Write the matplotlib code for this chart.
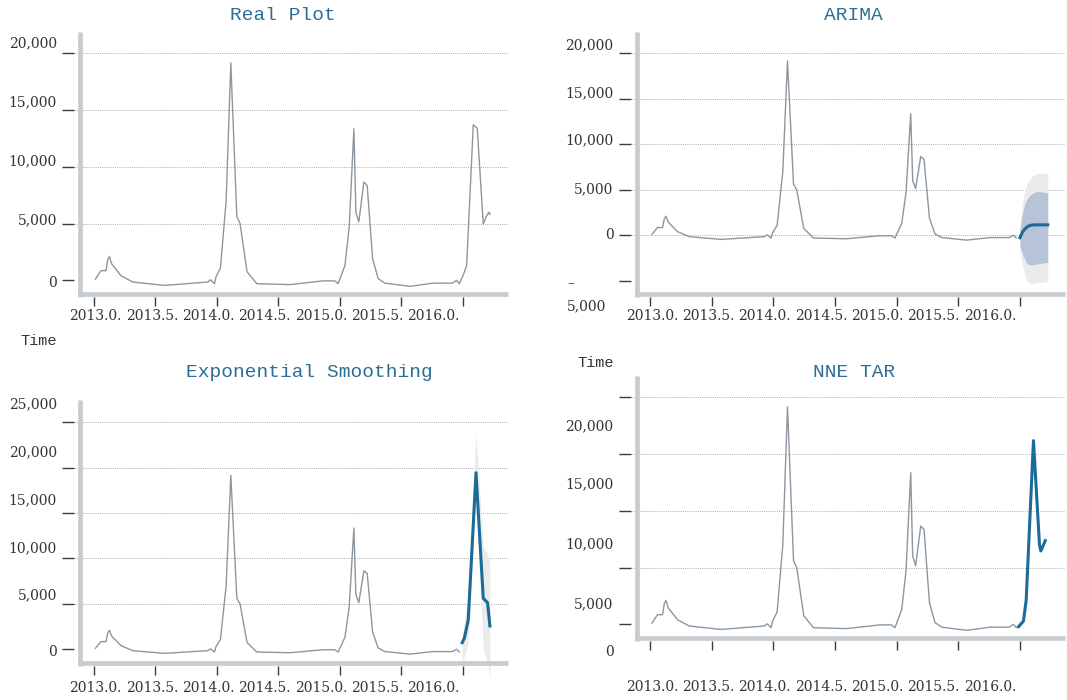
import matplotlib
matplotlib.use("Agg")
import matplotlib.pyplot as plt
from matplotlib.transforms import offset_copy

# weekly case counts (observed)
obs_t = [2013.014, 2013.059, 2013.100, 2013.114, 2013.128, 2013.146, 2013.222, 2013.317,
         2013.575, 2013.927, 2013.949, 2013.981, 2013.994, 2014.030, 2014.076, 2014.114,
         2014.163, 2014.189, 2014.246, 2014.325, 2014.593, 2014.864, 2014.959, 2014.986,
         2015.041, 2015.076, 2015.114, 2015.130, 2015.154, 2015.195, 2015.222, 2015.266,
         2015.311, 2015.366, 2015.569, 2015.759, 2015.913, 2015.949, 2015.970,
         2016.002, 2016.030, 2016.084, 2016.116, 2016.165, 2016.193, 2016.211, 2016.220]
obs_v = [100, 850, 850, 1800, 2100, 1450, 400, -150,
         -450, -150, 50, -300, 300, 1100, 7000, 19150,
         5600, 5000, 750, -300, -380, -50, -50, -300,
         1300, 4700, 13350, 6000, 5150, 8650, 8350, 1900,
         150, -250, -530, -250, -250, 0, -300,
         450, 1300, 13700, 13400, 4950, 5700, 6000, 5800]
n_train = 39  # points before 2016.0 used for fitting

# ARIMA forecast with 80% / 95% intervals
arima_t = [2016.000, 2016.021, 2016.041, 2016.062, 2016.082, 2016.103,
           2016.123, 2016.144, 2016.164, 2016.185, 2016.205, 2016.226]
arima_v = [-260, 350, 700, 950, 1080, 1130, 1150, 1150, 1150, 1150, 1150, 1150]
arima_hi80 = [600, 2400, 3500, 4100, 4400, 4600, 4750, 4800, 4800, 4750, 4700, 4650]
arima_lo80 = [-1100, -2000, -2700, -3150, -3250, -3250, -3200, -3150, -3100, -3050, -3000, -3000]
arima_hi95 = [1200, 3600, 5000, 5800, 6200, 6500, 6700, 6800, 6800, 6800, 6800, 6800]
arima_lo95 = [-1700, -3300, -4400, -5100, -5300, -5300, -5250, -5200, -5200, -5150, -5100, -5100]

# exponential smoothing forecast
ets_t = [2015.994, 2016.011, 2016.043, 2016.106, 2016.165, 2016.200, 2016.219]
ets_v = [730, 1210, 3230, 19440, 5610, 5130, 2570]
ets_hi = [1500, 3000, 6200, 23800, 11200, 10500, 9500]
ets_lo = [-1500, -800, 800, 17500, 0, -1500, -3300]

# neural net autoregression forecast
nnar_t = [2015.989, 2016.029, 2016.051, 2016.110, 2016.159, 2016.170, 2016.206]
nnar_v = [-210, 290, 2140, 16180, 6990, 6460, 7370]

x_ticks = [2013.0, 2013.5, 2014.0, 2014.5, 2015.0, 2015.5, 2016.0]
x_labels = ["2013.0.", "2013.5.", "2014.0.", "2014.5.", "2015.0.", "2015.5.", "2016.0."]

W, H = 1067, 700
GRAY = "#8d969e"
BLUE = "#1b6b99"
BAR = "#c7ccd1"
TXT = "#333333"
TITLE_C = "#2d6e97"
NUM_FONT = "DejaVu Serif"
MONO = "Liberation Mono"

fig = plt.figure(figsize=(W / 100, H / 100), dpi=100)


def make_axes(l, r, t, b):
    return fig.add_axes([l / W, 1 - b / H, (r - l) / W, (b - t) / H])


def style(ax, ylim, yticks, grid_vals, ylab_dy, xlab_y):
    ax.set_xlim(2012.84, 2016.366)
    ax.set_ylim(*ylim)
    for s in ax.spines.values():
        s.set_visible(False)
    ax.set_xticks(x_ticks)
    ax.set_yticks(yticks)
    ax.tick_params(axis="y", direction="out", length=8.6, width=1.0, color="#3c3c3c",
                   labelleft=False)
    ax.tick_params(axis="x", direction="out", length=6.5, width=1.0, color="#3c3c3c",
                   labelbottom=False)
    for g in grid_vals:
        ax.axhline(g, color="#a9aeb2", lw=0.7, ls=(0, (1, 1.2)), zorder=0)

    # thick grey axis bars, set off from the tick marks
    bbox = ax.get_window_extent()
    ax.plot([0, 0], [0, 1], transform=offset_copy(ax.transAxes, fig=fig, x=6, y=0, units="dots"),
            color=BAR, lw=3.4, solid_capstyle="butt", clip_on=False, zorder=5)
    ax.plot([4 / bbox.width, 1], [0, 0],
            transform=offset_copy(ax.transAxes, fig=fig, x=0, y=3, units="dots"),
            color=BAR, lw=3.4, solid_capstyle="butt", clip_on=False, zorder=5)

    for v, dy in zip(yticks, ylab_dy):
        if v < 0:
            continue
        ax.annotate(f"{v:,}", xy=(0, v), xycoords=("axes fraction", "data"),
                    xytext=(-17, dy), textcoords="offset pixels", ha="right", va="center",
                    fontsize=10, family=NUM_FONT, color=TXT)
    for i, lab in enumerate(x_labels):
        ax.annotate(lab, xy=(-4.6 + 56.3 * i, xlab_y), xycoords="axes pixels",
                    ha="left", va="center", fontsize=10, family=NUM_FONT, color=TXT,
                    annotation_clip=False)


def title(x, y, s):
    fig.text(x / W, 1 - y / H, s, ha="center", va="center", fontsize=14,
             family=MONO, color=TITLE_C)


# Real Plot
ax1 = make_axes(74, 508, 32, 297)
style(ax1, (-1471, 21875), [0, 5000, 10000, 15000, 20000],
      [5000, 10000, 15000, 20000], [-3, 3, 5.3, 7.6, 10], -19)
ax1.plot(obs_t, obs_v, color=GRAY, lw=1.0, zorder=3)
title(283, 15, "Real Plot")

# ARIMA
ax2 = make_axes(630.5, 1065, 32, 297)
style(ax2, (-6780, 22340), [-5000, 0, 5000, 10000, 15000, 20000],
      [0, 5000, 10000, 15000, 20000], [0, 0.7, 1, 3.6, 5, 8], -19)
ax2.fill_between(arima_t, arima_lo95, arima_hi95, color="#ebebeb", lw=0, zorder=1)
ax2.fill_between(arima_t, arima_lo80, arima_hi80, color="#b7c3d7", lw=0, zorder=2)
ax2.plot(obs_t[:n_train], obs_v[:n_train], color=GRAY, lw=1.0, zorder=3)
ax2.plot(arima_t, arima_v, color=BLUE, lw=2.2, zorder=4)
ax2.annotate("–", xy=(-60, 14), xycoords="axes pixels", ha="center", va="center",
             fontsize=10, family=NUM_FONT, color=TXT, annotation_clip=False)
ax2.annotate("5,000", xy=(-63.5, -9.7), xycoords="axes pixels", ha="left", va="center",
             fontsize=10, family=NUM_FONT, color=TXT, annotation_clip=False)
title(853, 15, "ARIMA")

# Exponential Smoothing
ax3 = make_axes(74, 508, 400, 666)
style(ax3, (-1840, 27450), [0, 5000, 10000, 15000, 20000, 25000],
      [5000, 10000, 15000, 20000, 25000], [-2.4, 8.6, 10, 12.6, 15.3, 18], -22.3)
ax3.fill_between(ets_t, ets_lo, ets_hi, color="#ebebeb", lw=0, zorder=1, clip_on=False)
ax3.plot(obs_t[:n_train], obs_v[:n_train], color=GRAY, lw=1.0, zorder=3)
ax3.plot(ets_t, ets_v, color=BLUE, lw=2.2, zorder=4)
title(309.7, 372.7, "Exponential Smoothing")

# NNETAR
ax4 = make_axes(630.5, 1065, 376, 641)
style(ax4, (-1470, 21870), [0, 5000, 10000, 15000, 20000],
      [5000, 10000, 15000, 20000], [-27.4, -36.3, -34, -30.7, -28.7], -46.3)
ax4.plot(obs_t[:n_train], obs_v[:n_train], color=GRAY, lw=1.0, zorder=3)
ax4.plot(nnar_t, nnar_v, color=BLUE, lw=2.2, zorder=4)
title(854.5, 372.7, "NNE TAR")

fig.text(38.5 / W, 1 - 341 / H, "Time", ha="center", va="center", fontsize=11,
         family=MONO, color=TXT)
fig.text(595.5 / W, 1 - 363 / H, "Time", ha="center", va="center", fontsize=11,
         family=MONO, color=TXT)

fig.savefig("out.png", dpi=100)
